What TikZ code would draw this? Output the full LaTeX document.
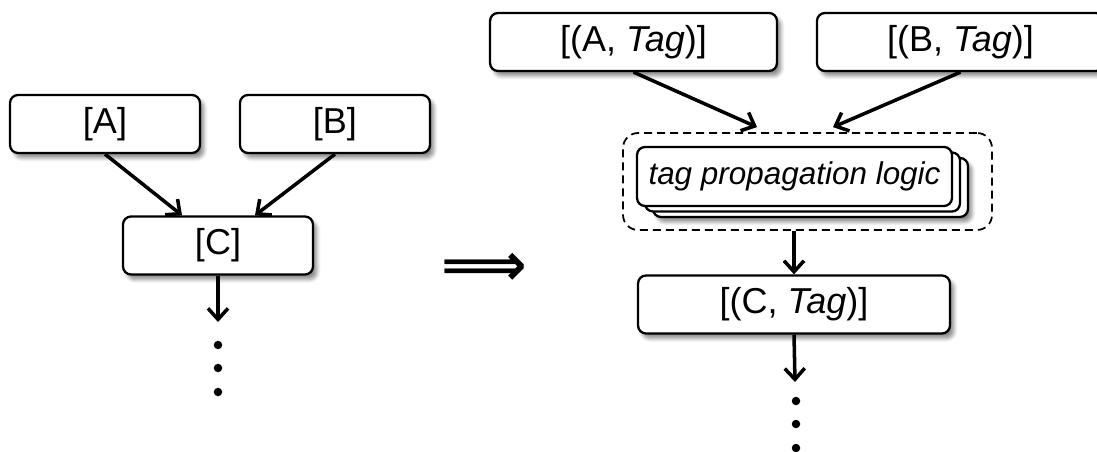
\documentclass[tikz,border=0pt]{standalone}
\usepackage{fontspec}
\setmainfont{Liberation Sans}
\newfontfamily\arrowfont{DejaVu Sans}
\usetikzlibrary{positioning, arrows.meta, shadows, shadows.blur}

\tikzset{
  list/.style={draw, line width=1.3pt, rounded corners=1.6mm, fill=white,
    minimum height=1.16cm, inner sep=0pt,
    font=\fontsize{20.5}{24}\selectfont,
    blur shadow={shadow xshift=0.8mm, shadow yshift=-1mm,
      shadow blur steps=6, shadow opacity=45}},
  flow/.style={-{Straight Barb[length=2.2mm, width=4mm, line width=2pt]},
    line width=2pt},
  dot/.style={circle, fill, inner sep=0pt, minimum size=1.7mm},
  implies/.style={inner sep=0pt, font=\arrowfont\bfseries\fontsize{34}{36}\selectfont}
}

\begin{document}
\begin{tikzpicture}[x=0.02cm, y=-0.02cm, on grid]
  \useasboundingbox (0,0) rectangle (1097,452);

  % plain dataflow
  \node[list, minimum width=3.8cm] (a) at (105,124) {[A]};
  \node[list, minimum width=3.8cm] (b) [right=4.6cm of a] {[B]};
  \node[list, minimum width=3.8cm] (c) at (218,245.5) {[C]};
  \coordinate (cend) at (218,322);
  \node[dot] (c1) at (218,345) {};
  \node[dot] (c2) at (218,368) {};
  \node[dot] (c3) at (218,392) {};
  \draw[flow] (a.south) -- ([xshift=-0.72cm]c.north);
  \draw[flow] (b.south) -- ([xshift=0.74cm]c.north);
  \draw[flow] (c.south) -- (cend);

  \node[implies] (arrow) at (484,269) {⟹};

  % tagged dataflow
  \node[list, minimum width=5.74cm] (atag) at (633.5,42) {[(A, \textit{Tag})]};
  \node[list, minimum width=5.74cm] (btag) [right=6.54cm of atag] {[(B, \textit{Tag})]};
  \node[draw, dashed, dash pattern=on 1.6mm off 1mm, line width=1pt,
    rounded corners=3mm, minimum width=7.38cm, minimum height=1.94cm]
    (group) at (807.5,181.5) {};
  \node[draw, line width=1.3pt, rounded corners=1.6mm, fill=white,
    minimum width=6.3cm, minimum height=1.18cm, inner sep=0pt,
    font=\fontsize{17.9}{21}\selectfont\itshape,
    blur shadow={shadow xshift=4mm, shadow yshift=-3.2mm,
      shadow blur steps=6, shadow opacity=45},
    double copy shadow={shadow xshift=1.6mm, shadow yshift=-1.1mm,
      line width=1.3pt, rounded corners=1.6mm}]
    (logic) at (794.5,176.5) {tag propagation logic};
  \node[list, minimum width=6.24cm] (ctag) at (794,304.5) {[(C, \textit{Tag})]};
  \coordinate (ctagend) at (795,382);
  \node[dot] (t1) at (796,401) {};
  \node[dot] (t2) at (796,424) {};
  \node[dot] (t3) at (796,448) {};
  \draw[flow] (atag.south) -- ([xshift=-1.01cm, yshift=0.1cm]group.north);
  \draw[flow] (btag.south) -- ([xshift=0.51cm, yshift=0.1cm]group.north);
  \draw[flow] (group.south -| ctag) -- (ctag.north);
  \draw[flow] (ctag.south) -- (ctagend);
\end{tikzpicture}
\end{document}
